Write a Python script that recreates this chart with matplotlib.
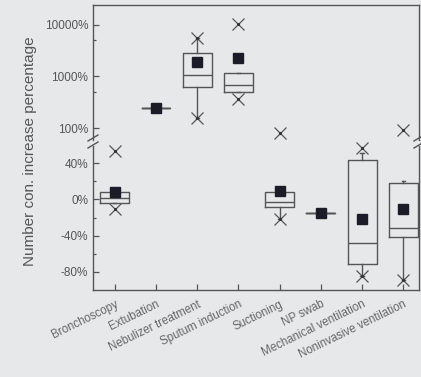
import matplotlib
matplotlib.use("Agg")
import matplotlib.pyplot as plt
from matplotlib.ticker import FixedLocator, NullFormatter

plt.rcParams['font.family'] = ['Liberation Sans', 'DejaVu Sans']

categories = ['Bronchoscopy', 'Extubation', 'Nebulizer treatment', 'Sputum induction',
              'Suctioning', 'NP swab', 'Mechanical ventilation', 'Noninvasive ventilation']
q1 =      [-4,   244, 625,  500,  -8.5, -14.5, -71, -41]
median =  [2,    244, 1070, 680,  -3.3, -14.5, -48, -31]
q3 =      [8,    244, 2860, 1170, 8,    -14.5, 44,  18]
whis_lo = [-4,   244, 156,  500,  -22,  -14.5, -84, -89]
whis_hi = [8,    244, 5600, 1170, 8,    -14.5, 51,  20]
means =   [8,    244, 1900, 2300, 9,    -14.5, -22, -11]
x_min =   [-11,  None, 156, 365,  -22,  None,  -84, -89]
x_max =   [54,   None, 5600, 10500, 80, None,  57,  92]

upper_cats = [1, 2, 3]          # boxes drawn in the log panel
split = 59                       # values above this go to the log panel

W, H = 421, 377
fig = plt.figure(figsize=(W / 100, H / 100), dpi=100)
bg = '#e7e8ea'
fig.patch.set_facecolor(bg)
line_c = '#555555'
text_c = '#555555'

left, right = 93, 419
ax_up = fig.add_axes([left / W, 1 - 140 / H, (right - left) / W, 135 / H])
ax_lo = fig.add_axes([left / W, 1 - 290 / H, (right - left) / W, 144 / H])

xlim = (-0.53, 7.38)

box_kw = dict(widths=0.7, showfliers=False, showmeans=False, patch_artist=False,
              manage_ticks=False,
              boxprops=dict(color=line_c, linewidth=1.0),
              medianprops=dict(color=line_c, linewidth=1.0),
              whiskerprops=dict(color=line_c, linewidth=1.0),
              capprops=dict(color=line_c, linewidth=1.0),
              capwidths=0.08)

ax_up.set_yscale('log')

for i in range(len(categories)):
    st = dict(q1=q1[i], med=median[i], q3=q3[i], whislo=whis_lo[i], whishi=whis_hi[i])
    ax = ax_up if i in upper_cats else ax_lo
    ax.bxp([st], positions=[i], **box_kw)
    ax.plot(i, means[i], marker='s', markersize=7, color='#1c1c28', linestyle='none',
            zorder=5)
    for v in (x_min[i], x_max[i]):
        if v is None:
            continue
        axv = ax_up if v > split else ax_lo
        axv.plot(i, v, marker='x', markersize=8, color=line_c, markeredgewidth=0.9,
                 linestyle='none', zorder=4, clip_on=False)
        axv.plot(i, v, marker='.', markersize=2.5, color='#333333', linestyle='none',
                 zorder=4, clip_on=False)

for ax in (ax_up, ax_lo):
    ax.set_facecolor(bg)
    ax.set_xlim(*xlim)
    for s in ax.spines.values():
        s.set_color(line_c)
        s.set_linewidth(1.0)
    ax.tick_params(direction='in', colors=line_c, labelcolor=text_c, labelsize=8.5,
                   width=0.9)
    ax.tick_params(which='major', length=4)
    ax.tick_params(which='minor', length=2.5, direction='in', colors=line_c, width=0.9)

ax_up.set_ylim(58.5, 24400)
ax_lo.set_ylim(-100, 59)
ax_up.spines['bottom'].set_visible(False)
ax_lo.spines['top'].set_visible(False)

ax_up.yaxis.set_major_locator(FixedLocator([100, 1000, 10000]))
ax_up.yaxis.set_minor_locator(FixedLocator([500, 5000]))
ax_up.yaxis.set_minor_formatter(NullFormatter())
ax_up.set_yticklabels(['100%', '1000%', '10000%'])
ax_up.set_xticks([])
ax_up.tick_params(axis='x', bottom=False, labelbottom=False)

ax_lo.yaxis.set_major_locator(FixedLocator([-80, -40, 0, 40]))
ax_lo.yaxis.set_minor_locator(FixedLocator([-60, -20, 20]))
ax_lo.set_yticklabels(['-80%', '-40%', '0%', '40%'])
ax_lo.set_xticks(range(len(categories)))
ax_lo.set_xticklabels(categories, rotation=26, ha='right', va='top',
                      rotation_mode='anchor', fontsize=8.3, color='#666666')
ax_lo.tick_params(axis='x', pad=6)

# axis break marks
for xf in (0.0, 1.0):
    for yp in (138, 145):
        x0 = left + xf * (right - left)
        fig.add_artist(plt.Line2D([(x0 - 5) / W, (x0 + 5) / W],
                                  [1 - (yp + 3) / H, 1 - (yp - 3) / H],
                                  color=line_c, linewidth=1.0))

fig.text(30 / W, 0.60, 'Number con. increase percentage', rotation=90,
         ha='center', va='center', fontsize=11, color=text_c)

fig.savefig('out.png', dpi=100, facecolor=bg)
